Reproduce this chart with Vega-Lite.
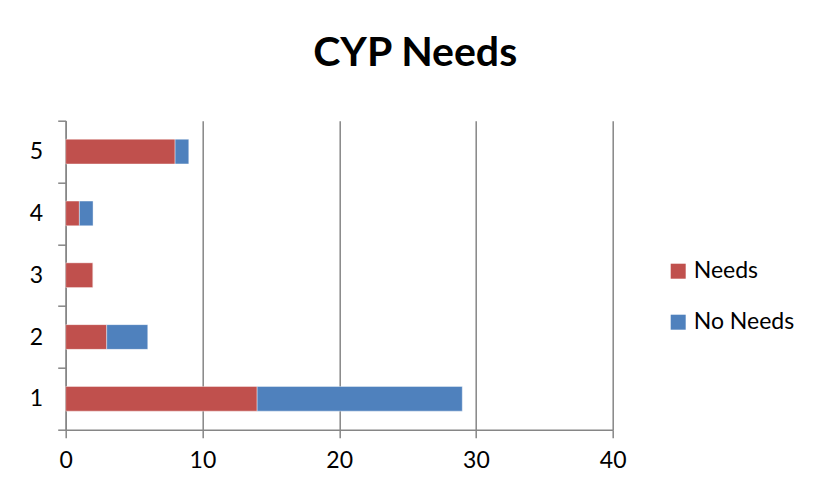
{
  "$schema": "https://vega.github.io/schema/vega-lite/v6.json",
  "autosize": "none",
  "width": 547,
  "height": 309,
  "padding": {"left": 65.7, "top": 120.7, "right": 201.3, "bottom": 61.3},
  "background": "white",
  "title": {
    "text": "CYP Needs",
    "font": "Lato",
    "fontSize": 41,
    "fontWeight": "bold",
    "color": "#000000",
    "anchor": "middle",
    "frame": "group",
    "baseline": "alphabetic",
    "dx": 76,
    "offset": 3
  },
  "data": {
    "values": [
      {"group": "1", "series": "Needs", "rank": 1, "count": 14},
      {"group": "1", "series": "No Needs", "rank": 2, "count": 15},
      {"group": "2", "series": "Needs", "rank": 1, "count": 3},
      {"group": "2", "series": "No Needs", "rank": 2, "count": 3},
      {"group": "3", "series": "Needs", "rank": 1, "count": 2},
      {"group": "3", "series": "No Needs", "rank": 2, "count": 0},
      {"group": "4", "series": "Needs", "rank": 1, "count": 1},
      {"group": "4", "series": "No Needs", "rank": 2, "count": 1},
      {"group": "5", "series": "Needs", "rank": 1, "count": 8},
      {"group": "5", "series": "No Needs", "rank": 2, "count": 1}
    ]
  },
  "mark": {"type": "bar", "height": {"band": 0.4}, "stroke": "#ffffff", "strokeOpacity": 0.5, "strokeWidth": 0.8},
  "encoding": {
    "y": {
      "field": "group",
      "type": "nominal",
      "sort": "descending",
      "scale": {"paddingInner": 0, "paddingOuter": 0},
      "axis": {
        "title": null,
        "tickBand": "extent",
        "domainColor": "#868686",
        "domainWidth": 1.5,
        "tickColor": "#868686",
        "tickWidth": 1.5,
        "tickSize": 8,
        "labelPadding": 15,
        "labelFont": "Lato",
        "labelFontSize": 23,
        "labelColor": "#000000",
        "grid": false
      }
    },
    "x": {
      "field": "count",
      "type": "quantitative",
      "stack": "zero",
      "scale": {"domain": [0, 40], "nice": false},
      "axis": {
        "title": null,
        "values": [0, 10, 20, 30, 40],
        "domainColor": "#868686",
        "domainWidth": 1.5,
        "tickColor": "#868686",
        "tickWidth": 1.5,
        "tickSize": 8,
        "labelPadding": 12,
        "labelFont": "Lato",
        "labelFontSize": 23,
        "labelColor": "#000000",
        "labelFlush": false,
        "grid": true,
        "gridColor": "#868686",
        "gridWidth": 1.5
      }
    },
    "color": {
      "field": "series",
      "type": "nominal",
      "scale": {"domain": ["Needs", "No Needs"], "range": ["#C0504D", "#4F81BD"]},
      "legend": {
        "title": null,
        "orient": "none",
        "legendX": 601,
        "legendY": 139,
        "padding": 0,
        "symbolType": "square",
        "symbolSize": 225,
        "symbolStrokeWidth": 0,
        "labelFont": "Lato",
        "labelFontSize": 23,
        "labelColor": "#000000",
        "labelOffset": 4,
        "rowPadding": 27
      }
    },
    "order": {"field": "rank", "type": "quantitative"}
  },
  "config": {
    "view": {"stroke": null}
  }
}
